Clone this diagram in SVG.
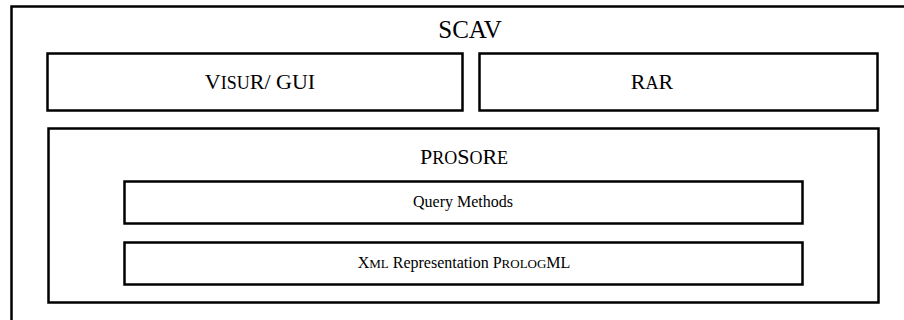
<svg xmlns="http://www.w3.org/2000/svg" width="904" height="320" viewBox="0 0 904 320">
<style>
.box{fill:#fff;stroke:#000;stroke-width:2.5}
.t{fill:#000;text-anchor:middle}
.big{font-size:22px}
.sm{font-size:18px}
.q{font-size:16px}
.qs{font-size:13px}
</style>
<rect width="904" height="320" fill="#fff"/>
<g id="scav">
<rect class="box" x="11.5" y="6.5" width="910" height="330"/>
<text class="t" x="470" y="38" font-size="25" font-family="'Liberation Serif', serif">SCAV</text>
</g>
<g id="visur">
<rect class="box" x="47.5" y="53.5" width="415" height="57"/>
<text class="t big" x="260" y="89" font-family="'Liberation Serif', serif">V<tspan class="sm">ISU</tspan>R/ GUI</text>
</g>
<g id="rar">
<rect class="box" x="479.5" y="53.5" width="398" height="57"/>
<text class="t big" x="652" y="89" font-family="'Liberation Serif', serif">R<tspan class="sm">A</tspan>R</text>
</g>
<g id="prosore">
<rect class="box" x="48.5" y="128.5" width="830" height="174"/>
<text class="t big" x="464" y="164" font-family="'Liberation Serif', serif">P<tspan class="sm">RO</tspan>S<tspan class="sm">O</tspan>R<tspan class="sm">E</tspan></text>
</g>
<g id="query">
<rect class="box" x="124.5" y="181.5" width="678" height="42"/>
<text class="t q" x="463" y="207" font-family="'Liberation Serif', serif">Query Methods</text>
</g>
<g id="xml">
<rect class="box" x="124.5" y="242.5" width="678" height="42"/>
<text class="t q" x="464" y="268" font-family="'Liberation Serif', serif">X<tspan class="qs">ML</tspan> Representation P<tspan class="qs">ROLOG</tspan>ML</text>
</g>
<g id="connectors"></g>
</svg>
